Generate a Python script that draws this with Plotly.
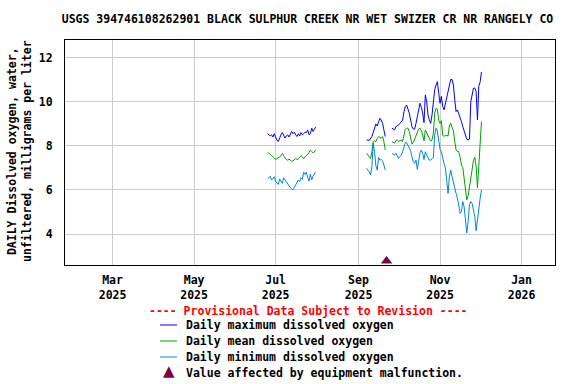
import pandas as pd
import plotly.graph_objects as go

TITLE = "USGS 394746108262901 BLACK SULPHUR CREEK NR WET SWIZER CR NR RANGELY CO"
Y_TITLE = "DAILY Dissolved oxygen, water,<br>unfiltered, milligrams per liter"

# Segment start dates (daily values follow)
SEG1_START, SEG2A_START, SEG2B_START = "2025-06-25", "2025-09-07", "2025-09-26"

max_seg1 = [8.55, 8.5, 8.45, 8.5, 8.4, 8.55, 8.35, 8.25, 8.2, 8.4, 8.5, 8.6, 8.45, 8.35, 8.45, 8.5,
            8.4, 8.55, 8.65, 8.55, 8.62, 8.5, 8.42, 8.55, 8.45, 8.6, 8.5, 8.55, 8.62, 8.6, 8.72, 8.5,
            8.55, 8.8, 8.65, 8.75, 8.85]
mean_seg1 = [7.72, 7.65, 7.6, 7.55, 7.5, 7.45, 7.38, 7.42, 7.45, 7.5, 7.55, 7.65, 7.55, 7.45, 7.38, 7.35,
             7.4, 7.35, 7.3, 7.32, 7.38, 7.42, 7.38, 7.4, 7.48, 7.55, 7.5, 7.42, 7.5, 7.55, 7.62, 7.7,
             7.8, 7.75, 7.68, 7.72, 7.82]
min_seg1 = [6.5, 6.58, 6.62, 6.45, 6.55, 6.6, 6.38, 6.3, 6.25, 6.5, 6.4, 6.3, 6.55, 6.45, 6.35, 6.25,
            6.18, 6.1, 6.05, 6.0, 6.12, 6.25, 6.35, 6.45, 6.38, 6.55, 6.48, 6.8, 6.7, 6.8, 6.55, 6.4,
            6.72, 6.45, 6.62, 6.7, 6.82]

max_seg2a = [8.24, 8.27, 8.24, 8.34, 8.42, 8.6, 8.84, 8.99, 8.9, 9.1, 9.25, 9.17, 9.02, 8.72, 8.42]
mean_seg2a = [7.66, 7.58, 7.54, 7.43, 7.73, 8.19, 8.23, 8.19, 8.34, 8.42, 8.39, 8.34, 8.42, 8.19, 7.81]
min_seg2a = [6.98, 6.9, 6.83, 6.68, 7.05, 8.12, 7.73, 7.09, 6.9, 7.48, 7.35, 7.38, 7.32, 7.13, 6.9]

max_seg2b = [8.8, 8.76, 8.72, 8.87, 8.9, 8.95, 9.02, 9.1, 9.17, 9.55, 9.78, 9.85, 9.66, 9.48, 9.17, 8.87,
             8.76, 8.76, 9.02, 9.32, 9.78, 9.93, 9.75, 9.48, 9.05, 10.31, 10.0, 9.4, 9.17, 9.02, 9.4, 9.93,
             10.54, 10.76, 10.91, 10.39, 9.93, 10.24, 9.78, 9.63, 9.93, 10.24, 10.46, 10.69, 11.02, 11.0,
             10.76, 10.08, 9.55, 9.63, 9.48, 9.25, 9.1, 8.87, 8.69, 8.42, 8.3, 8.27, 8.3, 10.0, 10.39,
             10.62, 10.62, 10.46, 9.17, 10.7, 10.9, 11.35]
mean_seg2b = [8.19, 8.15, 8.12, 8.23, 8.27, 8.19, 8.23, 8.27, 8.19, 8.57, 8.76, 8.8, 8.8, 8.65, 8.34, 8.08,
              8.15, 8.3, 8.49, 8.63, 8.76, 8.8, 8.69, 8.49, 8.23, 8.72, 8.57, 8.48, 8.34, 8.21, 8.27, 8.57,
              9.48, 9.7, 9.66, 9.17, 9.02, 9.14, 8.49, 8.42, 8.48, 8.48, 8.45, 8.9, 9.02, 8.84, 8.69, 8.19,
              7.81, 7.74, 7.74, 7.48, 7.13, 7.02, 6.57, 6.0, 5.55, 5.73, 6.18, 6.63, 6.98, 7.33, 7.48, 7.06,
              6.1, 7.13, 8.04, 9.1]
min_seg2b = [7.66, 7.61, 7.58, 7.66, 7.54, 7.43, 7.51, 7.58, 7.73, 7.93, 8.14, 8.14, 8.02, 7.89, 7.77, 7.51,
             7.28, 7.2, 7.35, 6.93, 7.38, 7.69, 7.81, 7.66, 7.38, 7.73, 7.58, 7.48, 7.35, 7.35, 7.41, 7.48,
             8.49, 8.8, 8.67, 8.12, 7.84, 7.73, 7.38, 7.2, 7.02, 6.37, 5.84, 6.6, 6.9, 6.6, 6.3, 6.15, 5.84,
             5.62, 5.32, 4.94, 5.01, 5.47, 5.24, 4.71, 4.05, 4.56, 5.32, 5.47, 5.39, 5.09, 4.79, 4.15, 4.64,
             5.32, 5.62, 6.0]

malfunction_dates = ["2025-09-22"]
malfunction_y = [2.78]

tick_vals = ["2025-03-01", "2025-05-01", "2025-07-01", "2025-09-01", "2025-11-01", "2026-01-01"]
tick_text = ["Mar<br>2025", "May<br>2025", "Jul<br>2025", "Sep<br>2025", "Nov<br>2025", "Jan<br>2026"]

X_RANGE = ["2025-01-24 10:00", "2026-01-26"]
Y_RANGE = [2.594, 12.8]

COLORS = {"max": "#0000FF", "mean": "#00A000", "min": "#0088D0", "malf": "#800040"}
FONT = "DejaVu Sans Mono"
FS = 11.5


def build(seg1, seg2a, seg2b):
    d1 = list(pd.date_range(SEG1_START, periods=len(seg1), freq="D"))
    d2 = list(pd.date_range(SEG2A_START, periods=len(seg2a), freq="D"))
    d3 = list(pd.date_range(SEG2B_START, periods=len(seg2b), freq="D"))
    x = d1 + [pd.Timestamp("2025-08-15")] + d2 + [pd.Timestamp("2025-09-23")] + d3
    y = list(seg1) + [None] + list(seg2a) + [None] + list(seg2b)
    return x, y


fig = go.Figure()
for key, segs, name in [
    ("max", (max_seg1, max_seg2a, max_seg2b), "Daily maximum dissolved oxygen"),
    ("mean", (mean_seg1, mean_seg2a, mean_seg2b), "Daily mean dissolved oxygen"),
    ("min", (min_seg1, min_seg2a, min_seg2b), "Daily minimum dissolved oxygen"),
]:
    x, y = build(*segs)
    fig.add_trace(go.Scatter(x=x, y=y, mode="lines", name=name,
                             line=dict(color=COLORS[key], width=1), connectgaps=False))

fig.add_trace(go.Scatter(x=malfunction_dates, y=malfunction_y, mode="markers",
                         marker=dict(symbol="triangle-up", size=10, color=COLORS["malf"]),
                         cliponaxis=False, name="Value affected by equipment malfunction."))

W, H = 576, 384
L, R, T, B = 65, 21, 40, 119
PW, PH = W - L - R, H - T - B


def px(x):
    return (x - L) / PW


def py(y):
    return (H - B - y) / PH


annotations = [
    dict(text=Y_TITLE, textangle=-90, xref="paper", yref="paper", x=px(19.5), y=py(151.5),
         xanchor="center", yanchor="middle", showarrow=False,
         font=dict(family=FONT, size=FS, color="black", weight="bold")),
    dict(text="---- Provisional Data Subject to Revision ----", xref="paper", yref="paper",
         x=px(308.5), y=py(311), xanchor="center", yanchor="middle", showarrow=False,
         font=dict(family=FONT, size=FS, color="#FF0000", weight="bold")),
]
legend_rows = [("Daily maximum dissolved oxygen", COLORS["max"], 325),
               ("Daily mean dissolved oxygen", COLORS["mean"], 341),
               ("Daily minimum dissolved oxygen", COLORS["min"], 357)]
shapes = []
for label, col, yy in legend_rows:
    shapes.append(dict(type="line", xref="paper", yref="paper", x0=px(160), x1=px(177),
                       y0=py(yy), y1=py(yy), line=dict(color=col, width=1)))
    annotations.append(dict(text=label, xref="paper", yref="paper", x=px(184), y=py(yy),
                            xanchor="left", yanchor="middle", showarrow=False,
                            font=dict(family=FONT, size=FS, color="black", weight="bold")))
annotations.append(dict(text="▲", xref="paper", yref="paper", x=px(169), y=py(371),
                        xanchor="center", yanchor="middle", showarrow=False,
                        font=dict(family="DejaVu Sans", size=15, color=COLORS["malf"])))
annotations.append(dict(text="Value affected by equipment malfunction.", xref="paper", yref="paper",
                        x=px(184), y=py(373), xanchor="left", yanchor="middle", showarrow=False,
                        font=dict(family=FONT, size=FS, color="black", weight="bold")))

fig.update_layout(
    width=W, height=H,
    margin=dict(l=L, r=R, t=T, b=B),
    paper_bgcolor="white", plot_bgcolor="white",
    showlegend=False,
    title=dict(text=TITLE, x=307.5 / W, xanchor="center", y=1 - 19 / H, yanchor="middle",
               font=dict(family=FONT, size=FS, color="black", weight="bold")),
    font=dict(family=FONT, size=FS, color="black", weight="bold"),
    annotations=annotations,
    shapes=shapes,
)
fig.update_xaxes(type="date", range=X_RANGE, tickvals=tick_vals, ticktext=tick_text,
                 showgrid=True, gridcolor="#CCCCCC", gridwidth=1, zeroline=False,
                 showline=True, linecolor="black", linewidth=1, mirror=True,
                 ticks="", ticklabelstandoff=4,
                 tickfont=dict(family=FONT, size=FS, color="black", weight="bold"))
fig.update_yaxes(range=Y_RANGE, tickvals=[4, 6, 8, 10, 12],
                 showgrid=True, gridcolor="#CCCCCC", gridwidth=1, zeroline=False,
                 showline=True, linecolor="black", linewidth=1, mirror=True,
                 ticks="", ticklabelstandoff=9,
                 tickfont=dict(family=FONT, size=FS, color="black", weight="bold"))

fig.write_html("out.html", config={"displayModeBar": False},
               post_script="document.body.style.margin='0';document.body.style.overflow='hidden';")
